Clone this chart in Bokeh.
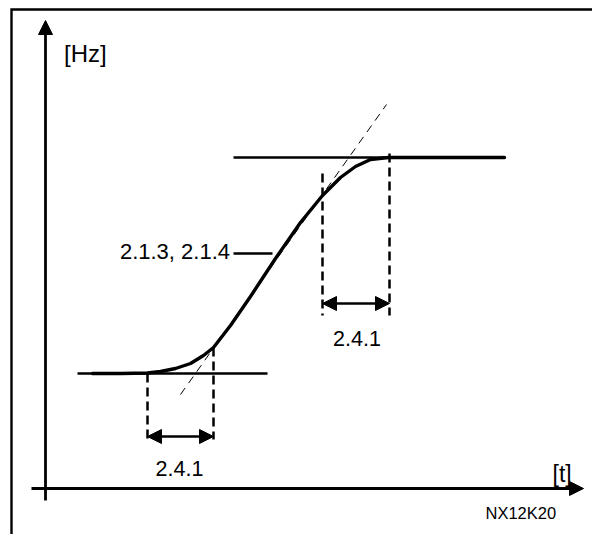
from bokeh.plotting import figure
from bokeh.models import Range1d, Arrow, NormalHead
from bokeh.embed import file_html
from bokeh.resources import INLINE
from bokeh.core.properties import value

# ---- data (t: time units, f: frequency units) ----
curve_t = [4.7, 7.5, 10.2, 11.5, 13.0, 14.5, 15.8, 16.8, 18.5, 20.5, 23.0, 25.5, 27.7,
           29.5, 31.0, 32.5, 34.3, 37.5, 45.9]
curve_f = [11.5, 11.5, 11.55, 11.7, 12.0, 12.5, 13.3, 14.1, 16.3, 19.2, 23.0, 26.6, 29.3,
           31.1, 32.2, 32.9, 33.1, 33.1, 33.1]

low_level = 11.5
low_level_t = [3.2, 22.2]
high_level = 33.1
high_level_t = [18.8, 45.9]

tangent_t = [13.5, 34.1]
tangent_f = [9.4, 38.4]

acc_t = [10.2, 16.8]          # 2.4.1 (start of ramp)
acc_top = [11.5, 14.1]
acc_bottom = 4.9
acc_arrow_f = 5.2

dec_t = [27.7, 34.4]          # 2.4.1 (end of ramp)
dec_top = [31.5, 33.5]
dec_bottom = 17.3
dec_arrow_f = 18.5

leader_t = [18.8, 22.7]
leader_f = 23.5

labels_small = ["2.4.1", "2.4.1"]
labels_small_t = [13.4, 31.15]
labels_small_f = [1.97, 15.0]

ramp_label = "2.1.3, 2.1.4"
unit_y = "[Hz]"
unit_x = "[t]"
code_label = "NX12K20"

x_range = (-4.5, 54.7)
y_range = (-4.6, 48.8)

FONT = value("Liberation Sans")

p = figure(width=592, height=534,
           x_range=Range1d(*x_range), y_range=Range1d(*y_range),
           output_backend="svg", toolbar_location=None, min_border=0,
           x_axis_type=None, y_axis_type=None, outline_line_color=None,
           background_fill_color="white", border_fill_color="white")
p.grid.visible = False

# frame border (left + top)
p.line([-3.4, -3.4, x_range[1]], [y_range[0], 47.9, 47.9],
       line_color="black", line_width=2.4, line_join="miter")

# tangent
p.line(tangent_t, tangent_f, line_color="black", line_width=1, line_dash="8 6")

# level lines
p.line(low_level_t, [low_level] * 2, line_color="black", line_width=2.4)
p.line(high_level_t, [high_level] * 2, line_color="black", line_width=2.4)

# vertical dashed markers
for t, top in zip(acc_t, acc_top):
    p.line([t, t], [top, acc_bottom], line_color="black", line_width=2.5, line_dash="9 5")
for t, top in zip(dec_t, dec_top):
    p.line([t, t], [top, dec_bottom], line_color="black", line_width=2.5, line_dash="9 5")

# leader line
p.line(leader_t, [leader_f] * 2, line_color="black", line_width=2.4)

# the ramp curve
p.line(curve_t, curve_f, line_color="black", line_width=3.4, line_join="round", line_cap="round")

def head():
    return NormalHead(size=14, fill_color="black", line_color="black", line_width=1)

# axes with arrows
p.add_layout(Arrow(x_start=0, y_start=-1.2, x_end=0, y_end=46.8, end=head(),
                   line_color="black", line_width=2.8))
p.add_layout(Arrow(x_start=-1.4, y_start=0, x_end=53.8, y_end=0, end=head(),
                   line_color="black", line_width=2.8))

# double arrows
p.add_layout(Arrow(x_start=acc_t[0], y_start=acc_arrow_f, x_end=acc_t[1], y_end=acc_arrow_f,
                   start=head(), end=head(), line_color="black", line_width=2.4))
p.add_layout(Arrow(x_start=dec_t[0], y_start=dec_arrow_f, x_end=dec_t[1], y_end=dec_arrow_f,
                   start=head(), end=head(), line_color="black", line_width=2.4))

# texts
p.text(x=labels_small_t, y=labels_small_f, text=labels_small, text_font=FONT,
       text_font_size=value("21.5px"), text_align="center", text_baseline="alphabetic",
       text_color="black")
p.text(x=[18.45], y=[23.7], text=[ramp_label], text_font=FONT,
       text_font_size=value("22px"), text_align="right", text_baseline="alphabetic",
       text_color="black")
p.text(x=[1.85], y=[43.47], text=[unit_y], text_font=FONT,
       text_font_size=value("24px"), text_align="left", text_baseline="alphabetic",
       text_color="black")
p.text(x=[50.7], y=[1.5], text=[unit_x], text_font=FONT,
       text_font_size=value("23px"), text_align="left", text_baseline="alphabetic",
       text_color="black")
p.text(x=[44.0], y=[-2.4], text=[code_label], text_font=FONT,
       text_font_size=value("16.5px"), text_align="left", text_baseline="alphabetic",
       text_color="black")

open("out.html", "w").write(file_html(p, INLINE))
